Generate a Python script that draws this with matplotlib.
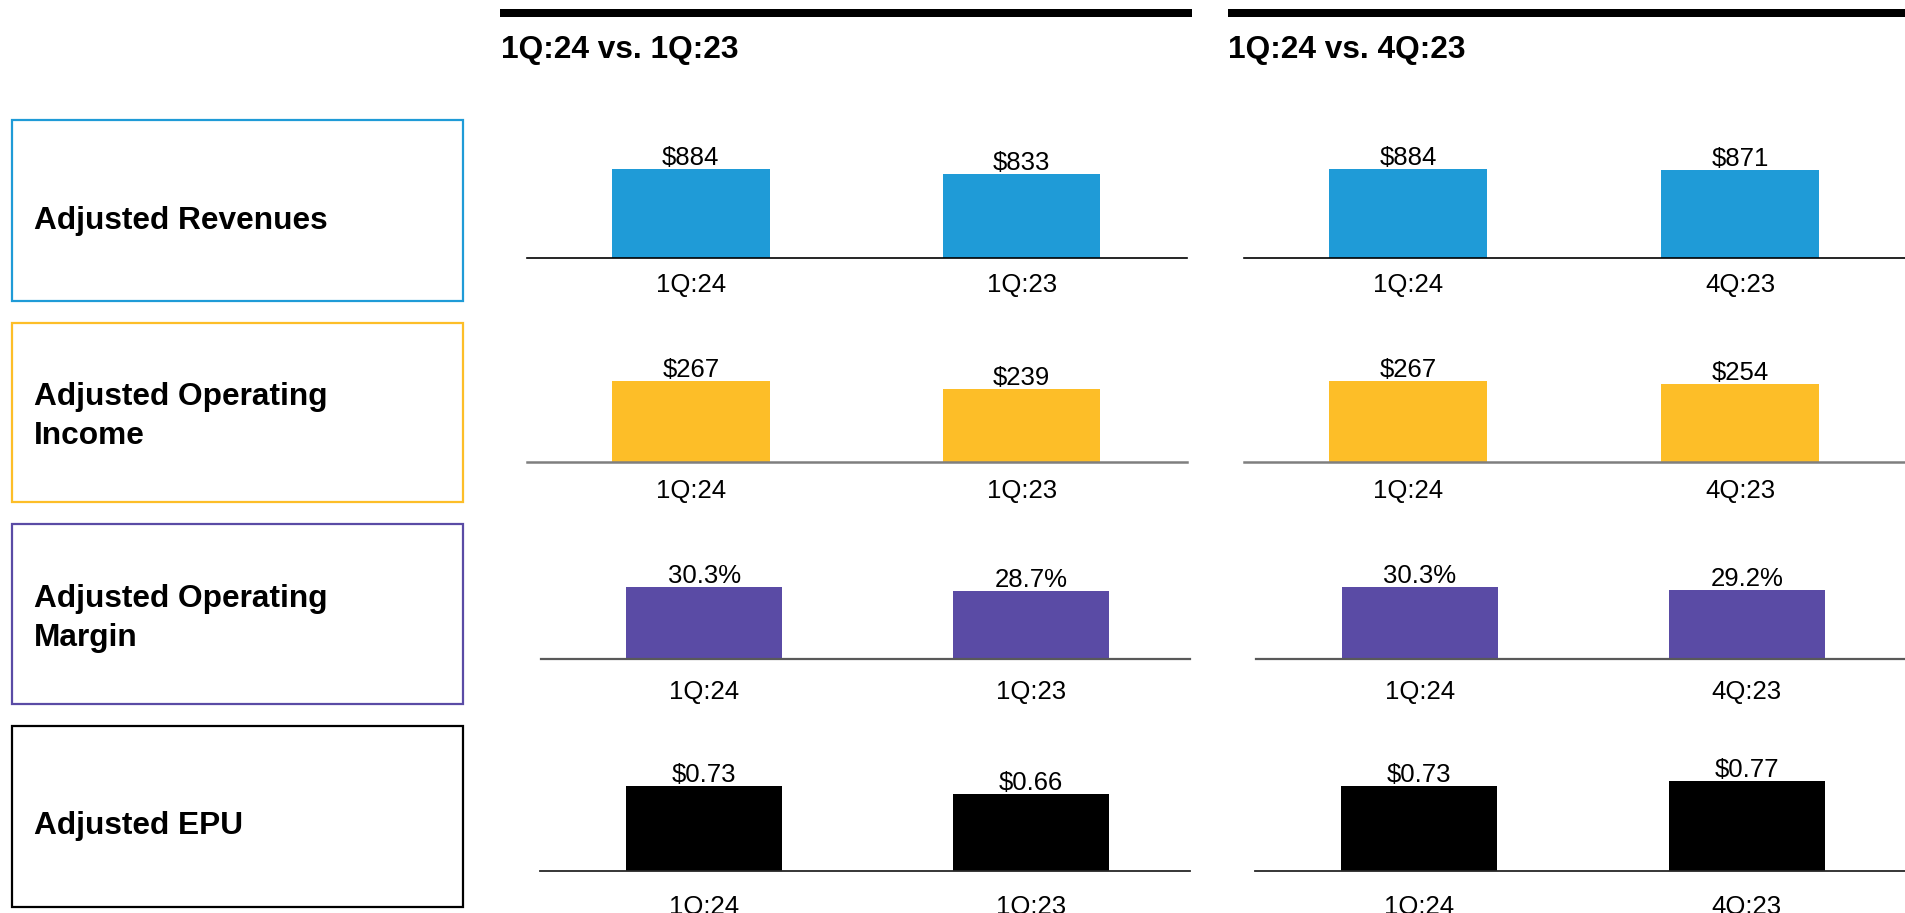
import matplotlib
matplotlib.use('Agg')
import matplotlib.pyplot as plt
from matplotlib.patches import Rectangle

plt.rcParams['font.family'] = ['Liberation Sans', 'DejaVu Sans']

# data
metrics = ['Adjusted Revenues', 'Adjusted Operating\nIncome',
           'Adjusted Operating\nMargin', 'Adjusted EPU']
colors = ['#1f9bd7', '#fdbe28', '#5a4ba5', '#000000']
titles = ['1Q:24 vs. 1Q:23', '1Q:24 vs. 4Q:23']
periods_yoy = ['1Q:24', '1Q:23']
periods_qoq = ['1Q:24', '4Q:23']

revenues_yoy = [884, 833]
revenues_qoq = [884, 871]
op_income_yoy = [267, 239]
op_income_qoq = [267, 254]
op_margin_yoy = [30.3, 28.7]
op_margin_qoq = [30.3, 29.2]
epu_yoy = [0.73, 0.66]
epu_qoq = [0.73, 0.77]

formats = ['${:.0f}', '${:.0f}', '{:.1f}%', '${:.2f}']
row_values = [(revenues_yoy, revenues_qoq), (op_income_yoy, op_income_qoq),
              (op_margin_yoy, op_margin_qoq), (epu_yoy, epu_qoq)]

# layout (pixels, top-down)
W, H = 1906, 913
axis_y = [258, 462.5, 659, 871]
spans = [[(527, 1187), (1244, 1906)], [(527, 1187), (1244, 1906)],
         [(541, 1190), (1256, 1906)], [(540, 1190), (1255, 1906)]]
xlims = [(-0.495, 1.5), (-0.495, 1.5), (-0.5, 1.486), (-0.5, 1.486)]
max_bar_px = [89, 82, 72, 90]
tick_pad_px = [15, 16, 21, 24]
spine_col = ['#000000', '#7f7f7f', '#595959', '#262626']
spine_lw = [1.2, 1.8, 1.6, 1.3]
box_y = [(120, 301), (323, 502), (524, 704), (726, 907)]
label_base = [229, 405, 607, 834]
AX_H = 110


def fx(x):
    return x / W


def fy(y):
    return 1 - y / H


fig = plt.figure(figsize=(W / 100, H / 100), dpi=100)

# header rules and titles
for (x0, x1), tx, title in zip([(500, 1192), (1228, 1906)], [501, 1228], titles):
    fig.add_artist(Rectangle((fx(x0), fy(17)), fx(x1 - x0), 8 / H,
                             transform=fig.transFigure, color='black', lw=0))
    fig.text(fx(tx), fy(58), title, fontsize=22.8, fontweight='bold',
             ha='left', va='baseline')

for r in range(4):
    # metric box on the left
    y0, y1 = box_y[r]
    fig.add_artist(Rectangle((fx(12), fy(y1)), fx(451), (y1 - y0) / H,
                             transform=fig.transFigure, fill=False,
                             edgecolor=colors[r], lw=1.6))
    for i, line in enumerate(metrics[r].split('\n')):
        fig.text(fx(34), fy(label_base[r] + i * 39), line, fontsize=22.8,
                 fontweight='bold', ha='left', va='baseline')

    vmax = max(max(v) for v in row_values[r])
    ppu = max_bar_px[r] / vmax
    for p in range(2):
        x0, x1 = spans[r][p]
        ax = fig.add_axes([fx(x0), fy(axis_y[r]), fx(x1 - x0), AX_H / H])
        vals = row_values[r][p]
        periods = periods_yoy if p == 0 else periods_qoq
        bars = ax.bar([0, 1], vals, width=0.477, color=colors[r])
        for b, v in zip(bars, vals):
            ax.annotate(formats[r].format(v), (b.get_x() + b.get_width() / 2, v),
                        xytext=(0, 4), textcoords='offset pixels',
                        ha='center', va='baseline', fontsize=18.5)
        ax.set_xlim(*xlims[r])
        ax.set_ylim(0, AX_H / ppu)
        ax.set_xticks([0, 1])
        ax.set_xticklabels(periods, fontsize=18.5)
        ax.tick_params(axis='x', length=0, pad=tick_pad_px[r] * 0.72)
        ax.set_yticks([])
        for s in ['top', 'left', 'right']:
            ax.spines[s].set_visible(False)
        ax.spines['bottom'].set_color(spine_col[r])
        ax.spines['bottom'].set_linewidth(spine_lw[r])
        ax.patch.set_visible(False)

fig.savefig('out.png', dpi=100)
